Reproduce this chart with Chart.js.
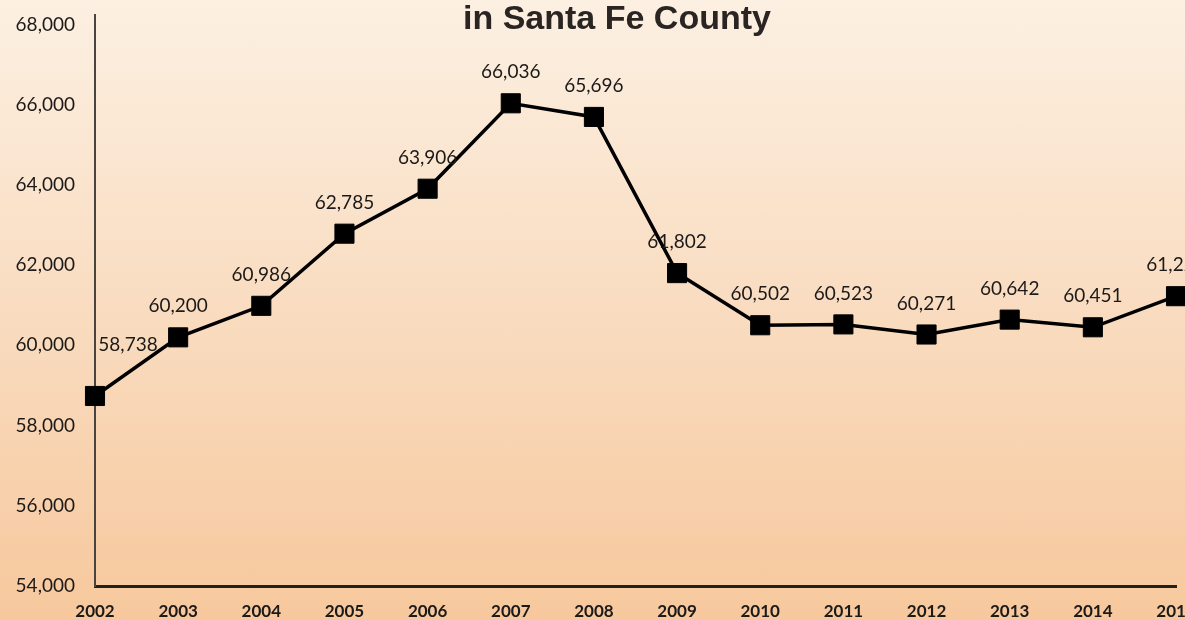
<!DOCTYPE html>
<html>
<head>
<meta charset="utf-8">
<script src="https://cdn.jsdelivr.net/npm/chart.js@4.4.1/dist/chart.umd.min.js"></script>
<style>
  html, body {
    margin: 0;
    padding: 0;
    overflow: hidden;
    width: 1185px;
    height: 620px;
    background: linear-gradient(to bottom, #fcf0e2 0%, #f9dcc0 50%, #f7c89d 100%);
  }
  #wrap {
    position: relative;
    width: 1215px;
    height: 620px;
  }
  #title {
    position: absolute;
    top: 0;
    left: 0;
    width: 1234px;
    text-align: center;
    font-family: "Liberation Sans", Arial, sans-serif;
    font-weight: bold;
    font-size: 34px;
    line-height: 34px;
    color: #2a2523;
    pointer-events: none;
  }
</style>
</head>
<body>
<div id="wrap">
  <canvas id="chart"></canvas>
  <div id="title">in Santa Fe County</div>
</div>
<script>
const years = ['2002', '2003', '2004', '2005', '2006', '2007', '2008', '2009', '2010', '2011', '2012', '2013', '2014', '2015'];
const jobs = [58738, 60200, 60986, 62785, 63906, 66036, 65696, 61802, 60502, 60523, 60271, 60642, 60451, 61226];
const yTicks = [54000, 56000, 58000, 60000, 62000, 64000, 66000, 68000];

// draws the value above each marker
const valueLabels = {
	id: 'valueLabels',
	afterDatasetsDraw(chart) {
		const ctx = chart.ctx;
		const meta = chart.getDatasetMeta(0);
		ctx.save();
		ctx.font = '19px Lato';
		ctx.fillStyle = '#1c1a19';
		ctx.textAlign = 'center';
		ctx.textBaseline = 'middle';
		meta.data.forEach((pt, i) => {
			const txt = jobs[i].toLocaleString('en-US');
			if (i === 0) {
				ctx.fillText(txt, pt.x + 33, pt.y - 51);
			} else {
				ctx.fillText(txt, pt.x, pt.y - 31);
			}
		});
		ctx.restore();
	}
};

const config = {
	type: 'line',
	data: {
		labels: years,
		datasets: [
			{
				data: jobs,
				borderColor: '#000000',
				backgroundColor: '#000000',
				borderWidth: 3.5,
				pointStyle: 'rect',
				pointRadius: 13.5,
				pointBorderWidth: 1,
				pointHoverRadius: 13.5,
				tension: 0,
				clip: false,
			}
		]
	},
	options: {
		responsive: true,
		maintainAspectRatio: false,
		animation: false,
		layout: {
			padding: { top: 14, right: 39, bottom: 0, left: 0 }
		},
		plugins: {
			legend: { display: false },
			title: { display: false },
			tooltip: { enabled: false }
		},
		scales: {
			x: {
				offset: false,
				grid: {
					display: false,
					drawTicks: false,
				},
				border: {
					display: true,
					color: '#231f1c',
					width: 3,
				},
				ticks: {
					padding: 15,
					color: '#1c1a19',
					font: { family: 'Lato', size: 17, weight: 'bold' },
					maxRotation: 0,
					autoSkip: false,
				},
				afterFit(scale) {
					scale.height = 34;
					scale.paddingLeft = 0;
					scale.paddingRight = 0;
				}
			},
			y: {
				min: 54000,
				max: 68250,
				grid: {
					display: false,
					drawTicks: false,
				},
				border: {
					display: true,
					color: '#4a4440',
					width: 2,
				},
				ticks: {
					padding: 20,
					color: '#1c1a19',
					font: { family: 'Lato', size: 19 },
					callback: (v) => v.toLocaleString('en-US'),
				},
				afterBuildTicks(scale) {
					scale.ticks = yTicks.map(v => ({ value: v }));
				},
				afterFit(scale) {
					scale.width = 95;
					scale.paddingTop = 0;
					scale.paddingBottom = 0;
				}
			}
		}
	},
	plugins: [valueLabels],
};

const ctx = document.getElementById('chart').getContext('2d');
new Chart(ctx, config);
</script>
</body>
</html>
